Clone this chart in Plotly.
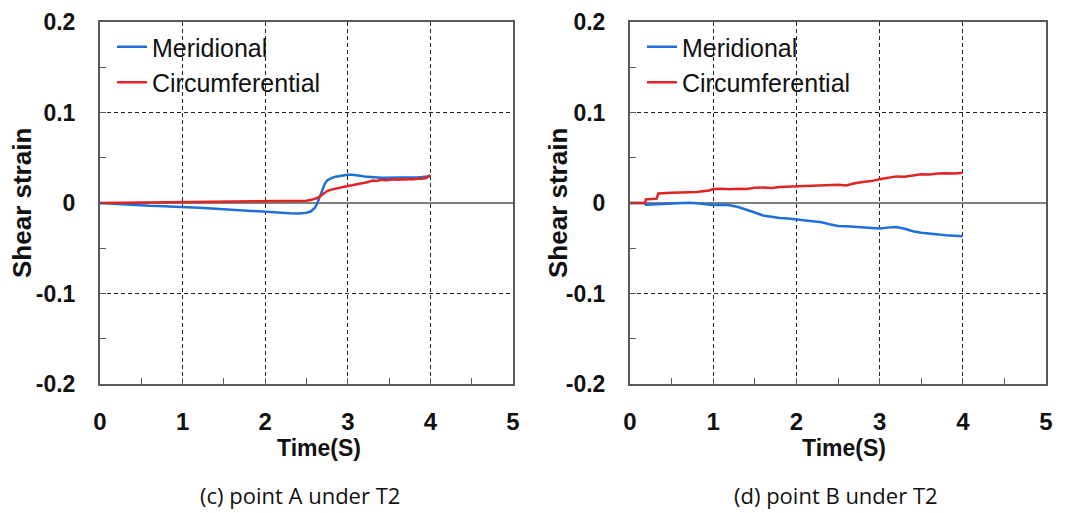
import plotly.graph_objects as go
from plotly.subplots import make_subplots

# ---- (c) point A under T2 ----
time_a = [0, 0.1, 0.2, 0.3, 0.4, 0.5, 0.6, 0.7, 0.8, 0.9, 1.0, 1.1, 1.2, 1.3, 1.4,
          1.5, 1.6, 1.7, 1.8, 1.9, 2.0, 2.1, 2.2, 2.3, 2.4, 2.45, 2.5, 2.55, 2.6,
          2.63, 2.66, 2.69, 2.72, 2.75, 2.8, 2.85, 2.9, 2.95, 3.0, 3.05, 3.1, 3.15,
          3.2, 3.25, 3.3, 3.35, 3.4, 3.45, 3.5, 3.55, 3.6, 3.65, 3.7, 3.75, 3.8,
          3.85, 3.9, 3.95, 4.0]
meridional_a = [0, -0.0005, -0.0012, -0.002, -0.0028, -0.003, -0.0031, -0.0034,
                -0.0036, -0.0039, -0.0042, -0.0046, -0.0052, -0.0058, -0.0064,
                -0.0069, -0.0076, -0.0082, -0.0088, -0.0095, -0.0101, -0.0106,
                -0.0111, -0.0114, -0.0116, -0.0114, -0.0108, -0.0094, -0.0055,
                -0.0005, 0.006, 0.014, 0.021, 0.025, 0.0275, 0.029, 0.030, 0.0308,
                0.0312, 0.0313, 0.031, 0.0302, 0.0294, 0.0289, 0.0284, 0.0281,
                0.0279, 0.0278, 0.0278, 0.0277, 0.0279, 0.0278, 0.0281, 0.0282,
                0.0284, 0.0285, 0.0288, 0.029, 0.0296]
circumferential_a = [0, 0.0001, 0.0002, 0.0003, 0.0004, 0.0004, 0.0005, 0.0006,
                     0.0006, 0.0007, 0.0008, 0.0009, 0.0009, 0.001, 0.0011, 0.0012,
                     0.0013, 0.0013, 0.0014, 0.0015, 0.0016, 0.0017, 0.0018, 0.0019,
                     0.0021, 0.0023, 0.0026, 0.0032, 0.0042, 0.0055, 0.0072, 0.0092,
                     0.0115, 0.0132, 0.0148, 0.016, 0.0172, 0.018, 0.0188, 0.0195,
                     0.0204, 0.0213, 0.022, 0.0232, 0.0248, 0.0244, 0.0257, 0.0251,
                     0.0255, 0.0262, 0.0256, 0.0263, 0.0259, 0.0266, 0.0262, 0.027,
                     0.0268, 0.0276, 0.031]

# ---- (d) point B under T2 ----
time_b = [0, 0.1, 0.18, 0.19, 0.25, 0.32, 0.34, 0.4, 0.5, 0.6, 0.65, 0.7, 0.8,
          0.9, 0.95, 1.0, 1.1, 1.2, 1.3, 1.4, 1.5, 1.6, 1.7, 1.8, 1.9, 2.0, 2.1,
          2.2, 2.3, 2.4, 2.5, 2.6, 2.7, 2.8, 2.9, 3.0, 3.1, 3.2, 3.3, 3.4, 3.5,
          3.6, 3.7, 3.8, 3.9, 4.0]
meridional_b = [0, 0, 0, -0.002, -0.0019, -0.0017, -0.0016, -0.0012, -0.0005,
                0.0002, 0.0004, 0.0003, -0.0004, -0.0014, -0.0018, -0.0022,
                -0.0018, -0.0025, -0.0045, -0.0072, -0.0105, -0.0138, -0.0155,
                -0.0165, -0.0172, -0.0182, -0.0188, -0.0197, -0.0212, -0.0235,
                -0.0255, -0.0258, -0.0262, -0.0268, -0.0275, -0.0282, -0.0272,
                -0.0265, -0.0285, -0.0312, -0.0328, -0.034, -0.0348, -0.0356,
                -0.0362, -0.0368]
circumferential_b = [0, 0, 0, 0.004, 0.0045, 0.0048, 0.0105, 0.011, 0.0112,
                     0.0116, 0.0114, 0.0118, 0.0122, 0.0128, 0.0138, 0.0155,
                     0.0158, 0.0152, 0.0158, 0.0155, 0.0168, 0.0172, 0.0165,
                     0.0176, 0.0179, 0.0183, 0.0186, 0.0192, 0.0195, 0.0193,
                     0.0202, 0.0194, 0.0218, 0.0232, 0.0242, 0.0262, 0.0275,
                     0.0294, 0.0291, 0.0302, 0.0318, 0.0314, 0.0326, 0.0328,
                     0.0325, 0.0335]

captions = ["(c) point A under T2", "(d) point B under T2"]
x_ticks = [0, 1, 2, 3, 4, 5]
y_ticks = [-0.2, -0.1, 0, 0.1, 0.2]
y_tick_text = ["-0.2", "-0.1", "0", "0.1", "0.2"]

BLUE = "#1f6fd8"
RED = "#e02424"
AXIS = "#595959"
FONT = "Liberation Sans, Arial, sans-serif"

W, H = 1074, 513
panels = [(100, 513), (630, 1046)]
top_px, bottom_px = 22, 384
y_dom = [1 - bottom_px / H, 1 - top_px / H]

# pixel anchors of the per-panel texts: (x-title centre, y-title centre, caption centre)
text_x = [(319, 22, 300), (844, 558, 836)]

fig = make_subplots(rows=1, cols=2)

series = [
    (time_a, meridional_a, circumferential_a, 1, "legend"),
    (time_b, meridional_b, circumferential_b, 2, "legend2"),
]
for t, mer, circ, col, leg in series:
    fig.add_trace(go.Scatter(x=t, y=mer, mode="lines", name="Meridional",
                             line=dict(color=BLUE, width=2.5), legend=leg),
                  row=1, col=col)
    fig.add_trace(go.Scatter(x=t, y=circ, mode="lines", name="Circumferential",
                             line=dict(color=RED, width=2.5), legend=leg),
                  row=1, col=col)

GRID_DASH = "4px,3px"

for i, (x0, x1) in enumerate(panels):
    xa = "xaxis" if i == 0 else "xaxis2"
    ya = "yaxis" if i == 0 else "yaxis2"
    fig.layout[xa].update(
        domain=[x0 / W, x1 / W], range=[0, 5], tickvals=x_ticks,
        automargin=False,
        showline=True, linecolor=AXIS, linewidth=2, mirror=True,
        showgrid=True, gridcolor="#222", griddash=GRID_DASH, gridwidth=1,
        zeroline=False, ticks="inside", ticklen=5, tickcolor=AXIS,
        minor=dict(dtick=0.5, ticks="inside", ticklen=6, tickcolor=AXIS,
                   showgrid=False),
        tickfont=dict(family=FONT, size=24, color="#111", weight="bold"),
        ticklabelstandoff=15, fixedrange=True,
    )
    fig.layout[ya].update(
        domain=y_dom, range=[-0.2, 0.2], tickvals=y_ticks, ticktext=y_tick_text,
        automargin=False,
        showline=True, linecolor=AXIS, linewidth=2, mirror=True,
        showgrid=True, gridcolor="#222", griddash=GRID_DASH, gridwidth=1,
        zeroline=True, zerolinecolor="#7f7f7f", zerolinewidth=1.5,
        ticks="inside", ticklen=5, tickcolor=AXIS,
        minor=dict(dtick=0.05, ticks="inside", ticklen=6, tickcolor=AXIS,
                   showgrid=False),
        tickfont=dict(family=FONT, size=23, color="#111", weight="bold"),
        ticklabelstandoff=18, fixedrange=True,
    )

annotations = []
for i, (tx, ty, cx) in enumerate(text_x):
    annotations.append(dict(
        x=tx / W, y=1 - 448 / H, xref="paper", yref="paper",
        xanchor="center", yanchor="middle",
        text="<b>Time(S)</b>", showarrow=False,
        font=dict(family=FONT, size=23, color="#111")))
    annotations.append(dict(
        x=ty / W, y=1 - 203 / H, xref="paper", yref="paper",
        xanchor="center", yanchor="middle",
        text="<b>Shear strain</b>", showarrow=False, textangle=-90,
        font=dict(family=FONT, size=26, color="#111")))
    annotations.append(dict(
        x=cx / W, y=1 - 495 / H, xref="paper", yref="paper",
        xanchor="center", yanchor="middle",
        text=captions[i], showarrow=False,
        font=dict(family="Open Sans, Noto Sans, sans-serif", size=22,
                  color="#111")))

legend_style = dict(
    font=dict(family=FONT, size=25, color="#111"),
    bgcolor="rgba(0,0,0,0)", borderwidth=0, itemwidth=30,
    xanchor="left", yanchor="top", tracegroupgap=0,
)

fig.update_layout(
    width=W, height=H,
    margin=dict(l=0, r=0, t=0, b=0, autoexpand=False),
    paper_bgcolor="white", plot_bgcolor="white",
    showlegend=True,
    legend=dict(x=112 / W, y=1 - 24 / H, **legend_style),
    legend2=dict(x=642 / W, y=1 - 24 / H, **legend_style),
    annotations=annotations,
)

fig.write_html("out.html")
